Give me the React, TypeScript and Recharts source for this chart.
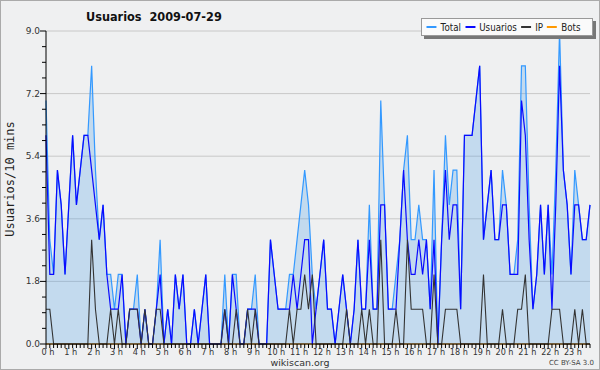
import React from 'react';
import {
  ComposedChart,
  Area,
  Line,
  XAxis,
  YAxis,
  CartesianGrid,
} from 'recharts';

// 144 slots of 10 minutes, 29 Jul 2009
const total = [
  7, 3, 2, 5, 4, 2, 4, 6, 4, 5, 6, 6, 8, 5, 3, 4, 2, 2, 1, 2, 2, 0, 1, 1,
  2, 0, 1, 0, 0, 1, 3, 0, 1, 0, 2, 1, 2, 0, 0, 1, 0, 1, 2, 0, 0, 0, 0, 2,
  0, 2, 2, 0, 0, 1, 1, 2, 0, 0, 0, 3, 2, 1, 1, 1, 2, 2, 3, 4, 5, 4, 2, 1,
  2, 3, 1, 1, 0, 1, 2, 1, 0, 1, 3, 1, 1, 4, 1, 1, 7, 4, 1, 1, 2, 3, 5, 6,
  3, 3, 4, 3, 3, 1, 5, 0, 3, 6, 4, 5, 5, 1, 6, 6, 6, 7, 8, 3, 4, 5, 3, 3,
  5, 4, 2, 2, 3, 8, 8, 4, 1, 2, 4, 2, 4, 2, 5, 9, 5, 4, 2, 5, 4, 3, 3, 4,
];

const usuarios = [
  6, 2, 2, 5, 4, 2, 4, 6, 4, 5, 6, 6, 5, 4, 3, 4, 2, 1, 1, 1, 2, 0, 1, 1,
  1, 0, 1, 0, 0, 1, 2, 0, 1, 0, 2, 1, 2, 0, 0, 1, 0, 1, 2, 0, 0, 0, 0, 1,
  0, 2, 1, 0, 0, 1, 1, 1, 0, 0, 0, 3, 2, 1, 1, 1, 1, 2, 1, 2, 3, 3, 0, 1,
  2, 3, 1, 1, 0, 1, 2, 1, 0, 1, 3, 1, 1, 3, 1, 1, 4, 4, 1, 1, 1, 3, 5, 3,
  2, 2, 3, 2, 3, 1, 3, 0, 3, 5, 3, 4, 4, 1, 6, 6, 6, 7, 8, 3, 4, 5, 3, 3,
  4, 4, 2, 2, 2, 7, 6, 3, 1, 2, 4, 2, 4, 1, 4, 8, 5, 4, 2, 4, 4, 3, 3, 4,
];

const ip = [
  1, 1, 0, 0, 0, 0, 0, 0, 0, 0, 0, 0, 3, 1, 0, 0, 0, 1, 0, 1, 0, 0, 1, 1,
  1, 0, 1, 0, 0, 1, 1, 0, 0, 0, 0, 0, 0, 0, 0, 0, 0, 0, 0, 0, 0, 0, 0, 1,
  0, 0, 1, 0, 0, 1, 0, 1, 0, 0, 0, 0, 0, 0, 0, 0, 1, 0, 1, 1, 2, 1, 2, 0,
  0, 0, 0, 0, 0, 0, 0, 1, 0, 0, 0, 1, 0, 1, 0, 0, 3, 0, 0, 0, 1, 0, 0, 3,
  1, 1, 1, 1, 0, 0, 2, 0, 0, 1, 1, 1, 1, 0, 0, 0, 0, 0, 0, 2, 0, 0, 0, 0,
  1, 0, 0, 0, 1, 1, 2, 0, 0, 0, 0, 0, 0, 1, 1, 1, 0, 0, 0, 1, 0, 1, 0, 0,
];

const bots = [
  0, 0, 0, 0, 0, 0, 0, 0, 0, 0, 0, 0, 0, 0, 0, 0, 0, 0, 0, 0, 0, 0, 0, 0,
  0, 0, 0, 0, 0, 0, 0, 0, 0, 0, 0, 0, 0, 0, 0, 0, 0, 0, 0, 0, 0, 0, 0, 0,
  0, 0, 0, 0, 0, 0, 0, 0, 0, 0, 0, 0, 0, 0, 0, 0, 0, 0, 0, 0, 0, 0, 0, 0,
  0, 0, 0, 0, 0, 0, 0, 0, 0, 0, 0, 0, 0, 0, 0, 0, 0, 0, 0, 0, 0, 0, 0, 0,
  0, 0, 0, 0, 0, 0, 0, 0, 0, 0, 0, 0, 0, 0, 0, 0, 0, 0, 0, 0, 0, 0, 0, 0,
  0, 0, 0, 0, 0, 0, 0, 0, 0, 0, 0, 0, 0, 0, 0, 0, 0, 0, 0, 0, 0, 0, 0, 0,
];

const hourLabels = [
  '0 h', '1 h', '2 h', '3 h', '4 h', '5 h', '6 h', '7 h', '8 h', '9 h', '10 h', '11 h',
  '12 h', '13 h', '14 h', '15 h', '16 h', '17 h', '18 h', '19 h', '20 h', '21 h', '22 h', '23 h',
];

const yMajor = [0, 1.8, 3.6, 5.4, 7.2, 9];
const yTicks = [
  0, 0.45, 0.9, 1.35, 1.8, 2.25, 2.7, 3.15, 3.6, 4.05, 4.5,
  4.95, 5.4, 5.85, 6.3, 6.75, 7.2, 7.65, 8.1, 8.55, 9,
];

const series = [
  { name: 'Total', color: '#3399ff' },
  { name: 'Usuarios', color: '#0a0aff' },
  { name: 'IP', color: '#333333' },
  { name: 'Bots', color: '#ff9900' },
];

const data = total.map((t, i) => ({
  i,
  total: t,
  usuarios: usuarios[i],
  ip: ip[i],
  bots: bots[i],
}));
const xTicks = data.map((d) => d.i);

const FONT = '"DejaVu Sans", sans-serif';

const XTick = ({ x, y, payload }: any) => {
  const v = payload.value;
  const isHour = v % 6 === 0;
  return (
    <g>
      <line x1={x} x2={x} y1={y} y2={y + (isHour ? 5 : 4)} stroke="#000" strokeWidth={1} />
      {isHour && (
        <text
          x={x + 2}
          y={y + 11}
          textAnchor="middle"
          fontSize={9.5}
          fill="#333"
          fontFamily={FONT}
          textLength={v < 60 ? 13 : 18}
          lengthAdjust="spacingAndGlyphs"
        >
          {hourLabels[v / 6]}
        </text>
      )}
    </g>
  );
};

const YTick = ({ x, y, payload }: any) => {
  const v = payload.value;
  const isMajor = yMajor.some((m) => Math.abs(m - v) < 1e-6);
  return (
    <g>
      <line x1={x - (isMajor ? 6 : 4)} x2={x} y1={y} y2={y} stroke="#000" strokeWidth={1} />
      {isMajor && (
        <text x={x - 6} y={y + 3} textAnchor="end" fontSize={9} fill="#333" fontFamily={FONT}>
          {v.toFixed(1)}
        </text>
      )}
    </g>
  );
};

const LegendBox = () => (
  <div
    style={{
      position: 'absolute',
      left: 421,
      top: 18,
      width: 170,
      height: 16,
      display: 'flex',
      alignItems: 'center',
      background: '#fafafa',
      border: '1px solid #999',
      boxShadow: '3px 3px 0 #777',
      fontFamily: FONT,
      fontSize: 10.5,
      color: '#222',
      lineHeight: '15px',
    }}
  >
    <div style={{ display: 'flex', alignItems: 'center', transform: 'scaleX(0.83)', transformOrigin: 'left center', whiteSpace: 'nowrap', marginLeft: 2 }}>
      {series.map((s) => (
        <span key={s.name} style={{ display: 'flex', alignItems: 'center', marginRight: 2 }}>
          <span style={{ display: 'inline-block', width: 12, height: 1.2, background: s.color, margin: '0 5px 0 3px' }} />
          {s.name}
        </span>
      ))}
    </div>
  </div>
);

export default function App() {
  return (
    <div
      style={{
        position: 'absolute',
        left: 0,
        top: 0,
        width: 600,
        height: 370,
        background: '#eff0f1',
        fontFamily: FONT,
      }}
    >
      <ComposedChart width={600} height={370} data={data} margin={{ top: 31, right: 10, left: 0, bottom: 0 }}>
        <CartesianGrid vertical={false} horizontalValues={[1.8, 3.6, 5.4, 7.2, 9]} stroke="#c8c8c8" />
        <XAxis
          dataKey="i"
          type="number"
          domain={[0, 143]}
          ticks={xTicks}
          interval={0}
          height={26}
          tickSize={0}
          tickMargin={0}
          tick={<XTick />}
          axisLine={{ stroke: '#000' }}
        />
        <YAxis
          type="number"
          domain={[0, 9]}
          ticks={yTicks}
          interval={0}
          width={46}
          tickSize={0}
          tickMargin={0}
          tick={<YTick />}
          axisLine={{ stroke: '#000' }}
        />
        <Line dataKey="bots" name="Bots" stroke="#ff9900" strokeWidth={1} dot={false} isAnimationActive={false} />
        <Area
          dataKey="total"
          name="Total"
          type="linear"
          stroke="#3399ff"
          strokeWidth={1.2}
          fill="#3f97e6"
          fillOpacity={0.25}
          dot={false}
          isAnimationActive={false}
        />
        <Line dataKey="usuarios" name="Usuarios" type="linear" stroke="#0a0aff" strokeWidth={1.2} dot={false} isAnimationActive={false} />
        <Line dataKey="ip" name="IP" type="linear" stroke="#333333" strokeWidth={1.1} dot={false} isAnimationActive={false} />
      </ComposedChart>

      <LegendBox />
      <div
        style={{
          position: 'absolute',
          left: 86,
          top: 9,
          fontSize: 13,
          fontWeight: 'bold',
          color: '#111',
          whiteSpace: 'pre',
          transform: 'scaleX(0.87)',
          transformOrigin: 'left top',
        }}
      >
        {'Usuarios  2009-07-29'}
      </div>
      <div
        style={{
          position: 'absolute',
          left: 10,
          top: 179,
          transform: 'translate(-50%, -50%) rotate(-90deg)',
          fontSize: 12,
          whiteSpace: 'nowrap',
          color: '#222',
          fontFamily: '"DejaVu Sans Mono", monospace',
        }}
      >
        Usuarios/10 mins
      </div>
      <div
        style={{
          position: 'absolute',
          left: 0,
          width: 600,
          top: 357,
          textAlign: 'center',
          fontSize: 9.5,
          lineHeight: '11px',
          color: '#333',
        }}
      >
        wikiscan.org
      </div>
      <div style={{ position: 'absolute', right: 6, top: 359, fontSize: 7, lineHeight: '8px', color: '#444' }}>CC BY-SA 3.0</div>
      <div style={{ position: 'absolute', inset: 0, border: '1px solid #aaa', pointerEvents: 'none' }} />
    </div>
  );
}
